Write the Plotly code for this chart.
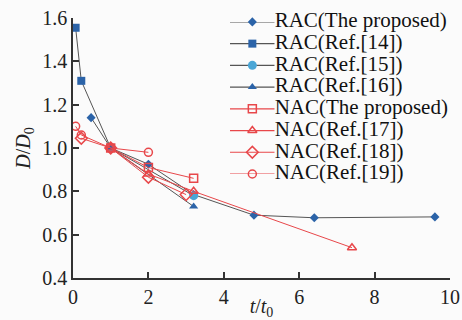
import plotly.graph_objects as go

# ---- data ----
rac_prop_x = [0.48, 1, 2, 3.2, 4.8, 6.4, 9.6]
rac_prop_y = [1.14, 1.0, 0.925, 0.785, 0.69, 0.678, 0.682]
rac14_x = [0.07, 0.22, 1]
rac14_y = [1.555, 1.31, 1.0]
rac15_x = [1, 3.2]
rac15_y = [1.0, 0.78]
rac16_x = [1, 3.2]
rac16_y = [1.0, 0.73]
nac_prop_x = [1, 2, 3.2]
nac_prop_y = [1.0, 0.91, 0.86]
nac17_x = [1, 2, 3.2, 7.4]
nac17_y = [1.0, 0.88, 0.80, 0.54]
nac18_x = [0.22, 1, 2, 3]
nac18_y = [1.045, 1.0, 0.865, 0.785]
nac19_x = [0.07, 0.22, 1, 2]
nac19_y = [1.10, 1.06, 1.0, 0.98]

labels = ["RAC(The proposed)", "RAC(Ref.[14])", "RAC(Ref.[15])", "RAC(Ref.[16])",
          "NAC(The proposed)", "NAC(Ref.[17])", "NAC(Ref.[18])", "NAC(Ref.[19])"]
x_ticks = [0, 2, 4, 6, 8, 10]
y_ticks = [0.4, 0.6, 0.8, 1.0, 1.2, 1.4, 1.6]

GRAY = "#555555"
RED = "#e8474a"
BLUE = "#2b63a8"
CYAN = "#4aa6d6"
FONT = "Liberation Serif"

series = [
    (rac_prop_x, rac_prop_y, GRAY, dict(symbol="diamond", size=7, color=BLUE)),
    (rac14_x, rac14_y, GRAY, dict(symbol="square", size=8, color=BLUE)),
    (rac15_x, rac15_y, GRAY, dict(symbol="circle", size=9, color=CYAN)),
    (rac16_x, rac16_y, GRAY, dict(symbol="triangle-up", size=8, color=BLUE)),
    (nac_prop_x, nac_prop_y, RED, dict(symbol="square-open", size=8, color=RED, line=dict(width=1.5, color=RED))),
    (nac17_x, nac17_y, RED, dict(symbol="triangle-up-open", size=8, color=RED, line=dict(width=1.5, color=RED))),
    (nac18_x, nac18_y, RED, dict(symbol="diamond-open", size=9, color=RED, line=dict(width=1.5, color=RED))),
    (nac19_x, nac19_y, RED, dict(symbol="circle-open", size=8, color=RED, line=dict(width=1.5, color=RED))),
]

fig = go.Figure()
for (xs, ys, lc, mk), name in zip(series, labels):
    fig.add_trace(go.Scatter(x=xs, y=ys, mode="lines+markers", name=name,
                             line=dict(color=lc, width=1), marker=mk,
                             showlegend=False))

# legend drawn on its own small axes (index-based positions)
for i, ((xs, ys, lc, mk), name) in enumerate(zip(series, labels)):
    fig.add_trace(go.Scatter(x=[0, 1], y=[i, i], mode="lines",
                             line=dict(color=lc, width=1.2), xaxis="x2", yaxis="y2",
                             showlegend=False, hoverinfo="skip", cliponaxis=False))
    fig.add_trace(go.Scatter(x=[0.5], y=[i], mode="markers", marker=mk,
                             xaxis="x2", yaxis="y2", showlegend=False,
                             hoverinfo="skip", cliponaxis=False))
    fig.add_trace(go.Scatter(x=[1], y=[i], mode="text", text=[name],
                             textposition="middle right",
                             textfont=dict(family=FONT, size=21, color="#111"),
                             xaxis="x2", yaxis="y2", showlegend=False,
                             hoverinfo="skip", cliponaxis=False))

axis_common = dict(showgrid=False, zeroline=False, showline=True, linecolor="#333",
                   linewidth=1.5, ticks="inside", ticklen=6, tickcolor="#333",
                   tickwidth=1.5, automargin=False,
                   tickfont=dict(family=FONT, size=20, color="#222"))

hidden = dict(visible=False, showticklabels=False, ticks="", showline=False,
              showgrid=False, zeroline=False, fixedrange=True)

fig.update_layout(
    width=462, height=320,
    margin=dict(l=73, r=12, t=18, b=42),
    paper_bgcolor="#fbfbfb", plot_bgcolor="#fbfbfb",
    font=dict(family=FONT),
    xaxis=dict(range=[0, 10], tickvals=x_ticks, ticktext=[str(v) for v in x_ticks],
               title=dict(text="<i>t</i>/<i>t</i><sub>0</sub>", font=dict(family=FONT, size=20, color="#222"),
                          standoff=8),
               **axis_common),
    yaxis=dict(range=[0.4, 1.6], tickvals=y_ticks, ticktext=[f"{v:.1f}" for v in y_ticks],
               title=dict(text="<i>D</i>/<i>D</i><sub>0</sub>", font=dict(family=FONT, size=20, color="#222"),
                          standoff=6),
               **axis_common),
    xaxis2=dict(domain=[0.4164, 0.535], range=[0, 1], anchor="y2", **hidden),
    yaxis2=dict(domain=[0.40, 0.985], range=[7, 0], anchor="x2", **hidden),
    showlegend=False,
)

fig.write_html("out.html")
